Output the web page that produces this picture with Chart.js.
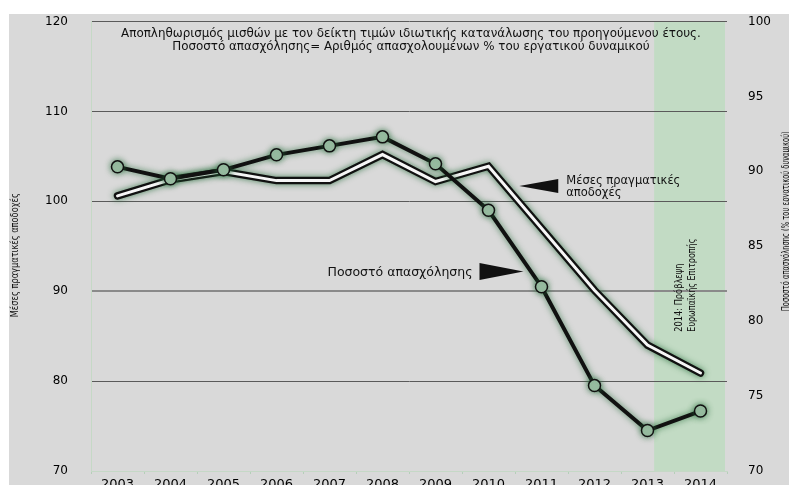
<!DOCTYPE html>
<html>
<head>
<meta charset="utf-8">
<script src="https://cdn.jsdelivr.net/npm/chart.js@4.4.1/dist/chart.umd.min.js"></script>
<style>
  body { margin: 0; background: #fff; }
  #wrap { position: absolute; left: 9px; top: 14px; width: 780px; height: 471px; background: #d9d9d9; overflow: hidden; }
</style>
</head>
<body>
<div id="wrap"><canvas id="chart"></canvas></div>
<script>
// data
const years = ['2003', '2004', '2005', '2006', '2007', '2008', '2009', '2010', '2011', '2012', '2013', '2014'];
const realWages = [100.6, 102.4, 103.3, 102.3, 102.3, 105.2, 102.2, 103.9, 97.0, 90.1, 84.0, 80.9];   // left axis
const employmentRate = [90.3, 89.5, 90.1, 91.1, 91.7, 92.3, 90.5, 87.4, 82.3, 75.7, 72.7, 74.0];   // right axis
const leftRange = [70, 120, 10];
const rightRange = [70, 100, 5];
const forecastYear = '2014';

const noteLines = [
    'Αποπληθωρισμός μισθών με τον δείκτη τιμών ιδιωτικής κατανάλωσης του προηγούμενου έτους.',
    'Ποσοστό απασχόλησης= Αριθμός απασχολουμένων % του εργατικού δυναμικού'
];
const wagesLabel = ['Μέσες πραγματικές', 'αποδοχές'];
const employmentLabel = 'Ποσοστό απασχόλησης';
const forecastLabel = ['2014: Πρόβλεψη', 'Ευρωπαϊκής Επιτροπής'];
const leftTitle = 'Μέσες πραγματικές αποδοχές';
const rightTitle = 'Ποσοστό απασχόλησης (% του εργατικού δυναμικού)';

const tickFont = { family: 'DejaVu Sans', size: 12 };

// vertical text squeezed to a given length (the original uses a narrow face)
function upText(ctx, text, x, y, len, align) {
    const w = ctx.measureText(text).width;
    ctx.save();
    ctx.translate(x, y);
    ctx.rotate(-Math.PI / 2);
    ctx.scale(Math.min(1, len / w), 1);
    ctx.textAlign = align;
    ctx.fillText(text, 0, 0);
    ctx.restore();
}

// green band, glow, notes and arrows
const decor = {
    id: 'decor',
    beforeDraw(chart) {
        const { ctx, chartArea, scales } = chart;
        const x = scales.x;
        const i = years.indexOf(forecastYear);
        const catW = x.getPixelForValue(1) - x.getPixelForValue(0);
        const left = x.getPixelForValue(i - 1) + catW * 0.125;
        ctx.save();
        ctx.fillStyle = '#c2dbc4';
        ctx.fillRect(left, chartArea.top, chartArea.right - 2 - left, chartArea.bottom - chartArea.top);
        ctx.restore();
    },
    beforeDatasetDraw(chart, args) {
        const ctx = chart.ctx;
        ctx.save();
        if (args.meta._dataset.glow) {
            ctx.shadowColor = 'rgba(40, 110, 60, 0.8)';
            ctx.shadowBlur = 6;
        }
    },
    afterDatasetDraw(chart) {
        chart.ctx.restore();
    },
    afterDraw(chart) {
        const { ctx, chartArea, scales } = chart;
        const x = scales.x, y = scales.y;
        const cx = (chartArea.left + chartArea.right) / 2;
        ctx.save();
        ctx.fillStyle = '#111';
        ctx.textBaseline = 'middle';

        // note at the top
        ctx.font = '11.9px "DejaVu Sans"';
        ctx.textAlign = 'center';
        ctx.fillText(noteLines[0], cx + 2, chartArea.top + 12);
        ctx.fillText(noteLines[1], cx + 2, chartArea.top + 25);

        // wages arrow (points left)
        let tx = x.getPixelForValue(7.58), ty = y.getPixelForValue(101.7);
        ctx.beginPath();
        ctx.moveTo(tx, ty);
        ctx.lineTo(tx + 39, ty - 7);
        ctx.lineTo(tx + 39, ty + 7);
        ctx.closePath();
        ctx.fill();
        ctx.textAlign = 'left';
        ctx.font = '11.5px "DejaVu Sans"';
        ctx.fillText(wagesLabel[0], tx + 47, ty - 5);
        ctx.fillText(wagesLabel[1], tx + 47, ty + 7);

        // employment arrow (points right)
        tx = x.getPixelForValue(7.66); ty = y.getPixelForValue(92.2);
        ctx.beginPath();
        ctx.moveTo(tx, ty);
        ctx.lineTo(tx - 44, ty - 8.5);
        ctx.lineTo(tx - 44, ty + 8.5);
        ctx.closePath();
        ctx.fill();
        ctx.textAlign = 'right';
        ctx.font = '12.5px "DejaVu Sans"';
        ctx.fillText(employmentLabel, tx - 51, ty + 1);

        // forecast note inside the band
        const fx = x.getPixelForValue(years.indexOf(forecastYear));
        const fy = y.getPixelForValue(85.5);
        ctx.font = '11px "DejaVu Sans"';
        upText(ctx, forecastLabel[0], fx - 21, fy, 68, 'left');
        upText(ctx, forecastLabel[1], fx - 8, fy, 93, 'left');

        // axis titles
        const my = (chartArea.top + chartArea.bottom) / 2;
        ctx.font = '10.5px "DejaVu Sans"';
        upText(ctx, leftTitle, 6, my + 9, 124, 'center');
        ctx.font = '10px "DejaVu Sans"';
        upText(ctx, rightTitle, chart.width - 3, my - 25, 180, 'center');

        ctx.restore();
    }
};

const chart = document.querySelector('#chart').getContext('2d');

new Chart(chart, {
    type: 'line',
    data: {
        labels: years,
        datasets: [
            {
                label: employmentLabel,
                data: employmentRate,
                yAxisID: 'y2',
                borderColor: '#111',
                borderWidth: 4,
                pointRadius: 6,
                pointBackgroundColor: '#a9c8b0',
                pointBorderColor: '#111',
                pointBorderWidth: 1.5,
                glow: true
            },
            {
                label: 'inner',
                data: realWages,
                yAxisID: 'y',
                borderColor: '#f6f6f6',
                borderWidth: 3,
                pointRadius: 0,
                borderCapStyle: 'round'
            },
            {
                label: wagesLabel.join(' '),
                data: realWages,
                yAxisID: 'y',
                borderColor: '#111',
                borderWidth: 7.5,
                pointRadius: 0,
                borderCapStyle: 'round',
                glow: true
            }
        ]
    },
    options: {
        responsive: true,
        maintainAspectRatio: false,
        animation: false,
        layout: { padding: { top: 7 } },
        plugins: { legend: { display: false }, tooltip: { enabled: false } },
        scales: {
            x: {
                offset: true,
                grid: { offset: true, drawOnChartArea: false, tickLength: 3, color: '#b5cfb9' },
                border: { color: '#c5d8c6' },
                ticks: { color: '#000', font: { family: 'DejaVu Sans', size: 13 }, padding: 3, maxRotation: 0 },
                afterFit(s) { s.height = 14; s.paddingLeft = 0; s.paddingRight = 0; }
            },
            y: {
                position: 'left',
                min: leftRange[0], max: leftRange[1],
                ticks: { stepSize: leftRange[2], color: '#000', font: tickFont, padding: 23 },
                grid: {
                    drawTicks: false,
                    color: c => c.tick.value === leftRange[0] ? 'rgba(0,0,0,0)' : (c.tick.value === 90 ? '#8a8a8a' : '#5a5a5a'),
                    lineWidth: c => c.tick.value === 90 ? 2 : 1
                },
                border: { color: '#c5d9c6' },
                afterFit(s) { s.width = 82; s.paddingTop = 0; s.paddingBottom = 0; }
            },
            y2: {
                position: 'right',
                min: rightRange[0], max: rightRange[1],
                ticks: { stepSize: rightRange[2], color: '#000', font: tickFont, padding: 21 },
                grid: { display: false, drawTicks: false },
                border: { display: false },
                afterFit(s) { s.width = 62; s.paddingTop = 0; s.paddingBottom = 0; }
            }
        }
    },
    plugins: [decor]
});
</script>
</body>
</html>
